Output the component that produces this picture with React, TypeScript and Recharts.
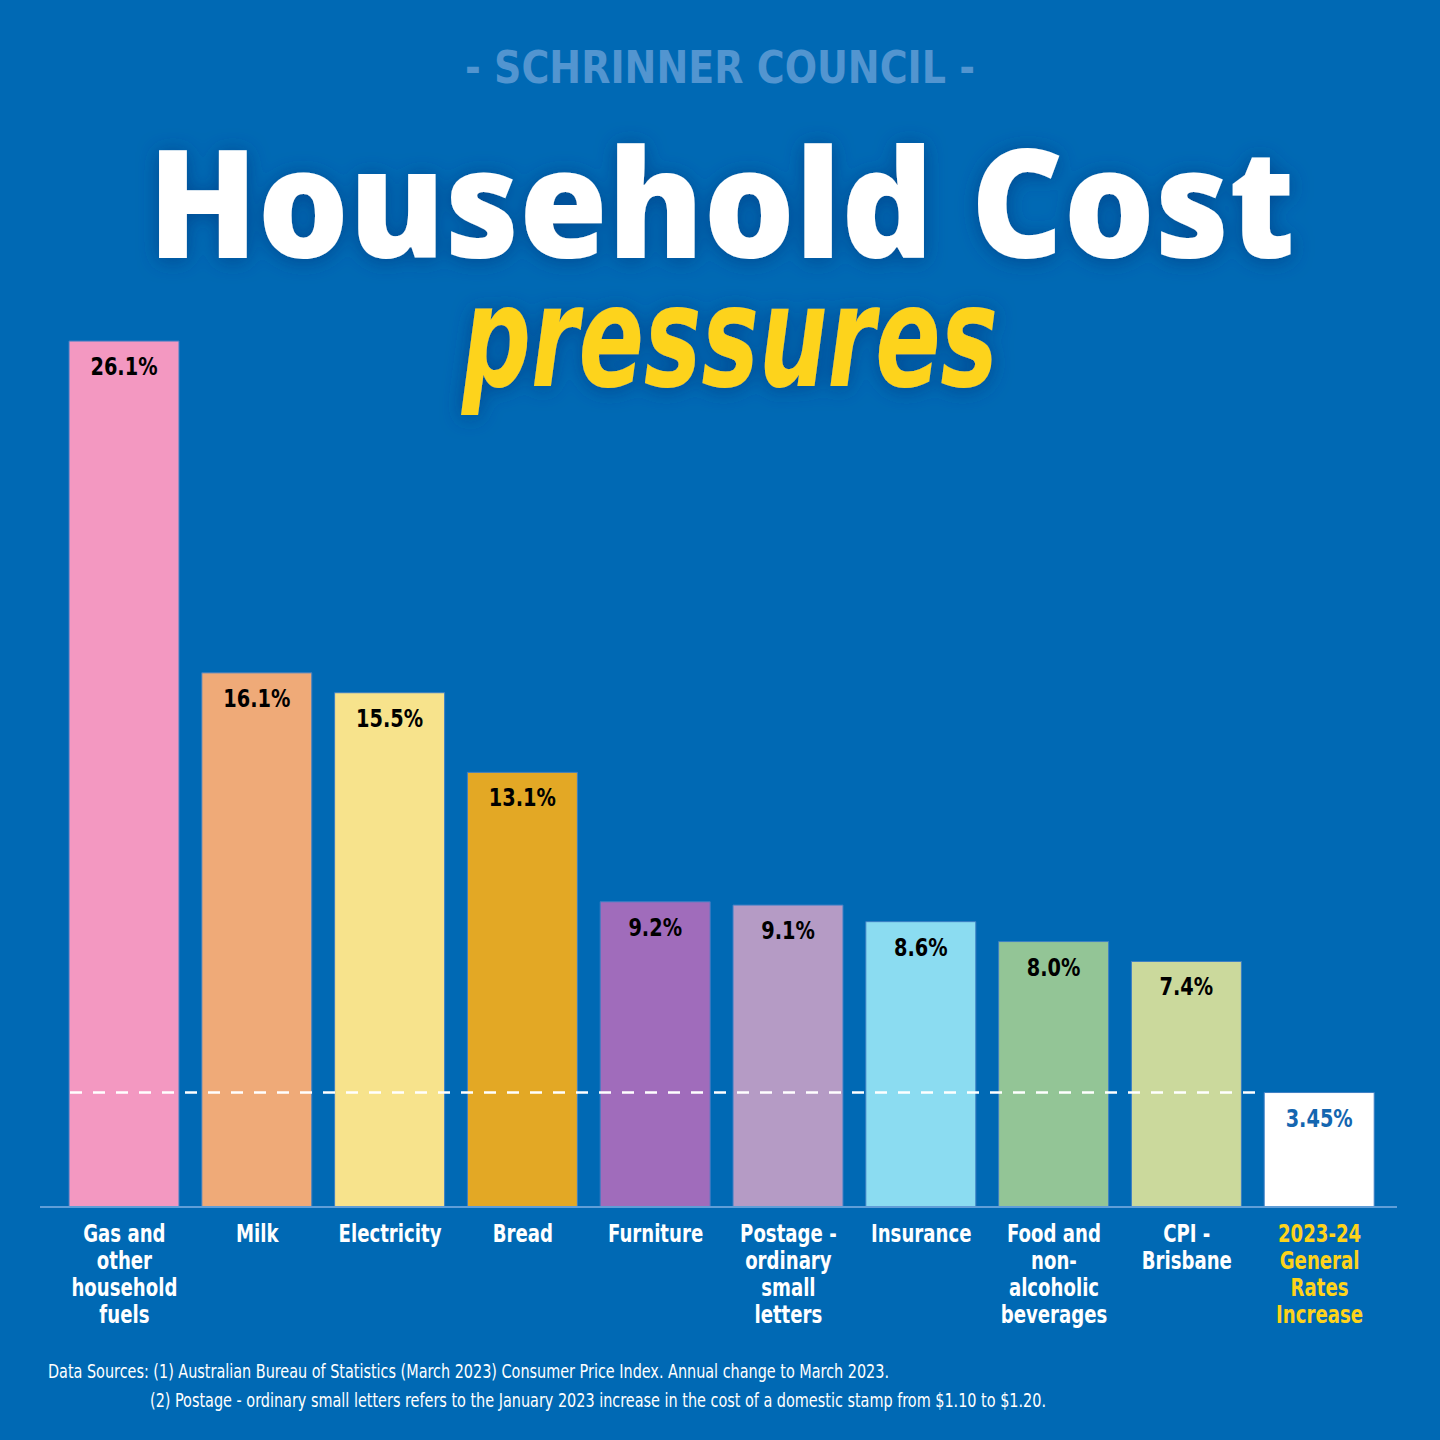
import React from 'react';
import { BarChart, Bar, XAxis, YAxis, Cell, LabelList, ReferenceLine } from 'recharts';

const categories = [
  'Gas and\nother\nhousehold\nfuels',
  'Milk',
  'Electricity',
  'Bread',
  'Furniture',
  'Postage -\nordinary\nsmall\nletters',
  'Insurance',
  'Food and\nnon-\nalcoholic\nbeverages',
  'CPI -\nBrisbane',
  '2023-24\nGeneral\nRates\nIncrease',
];
const values = [26.1, 16.1, 15.5, 13.1, 9.2, 9.1, 8.6, 8.0, 7.4, 3.45];
const valueLabels = ['26.1%', '16.1%', '15.5%', '13.1%', '9.2%', '9.1%', '8.6%', '8.0%', '7.4%', '3.45%'];
const colors = ['#f398c1', '#efaa78', '#f7e38c', '#e3a825', '#a06cbb', '#b59bc5', '#8bdcf1', '#93c596', '#cbd99c', '#ffffff'];
const ratesIncrease = 3.45;

const BG = '#0069b4';
const FONT = '"DejaVu Sans Condensed", "DejaVu Sans", sans-serif';

const data = categories.map((name, i) => ({ name, value: values[i], label: valueLabels[i] }));

function Tick(props: any) {
  const { x, y, payload, index } = props;
  const lines = String(payload.value).split('\n');
  const last = index === categories.length - 1;
  return (
    <text
      x={x}
      y={y + 27}
      textAnchor="middle"
      fill={last ? '#fdd31b' : '#ffffff'}
      fontFamily={FONT}
      fontWeight="bold"
      fontSize={24}
      style={{ fontStretch: 'condensed' }}
      transform={`translate(${x} 0) scale(0.84 1) translate(${-x} 0)`}
    >
      {lines.map((l, i) => (
        <tspan key={i} x={x} dy={i === 0 ? 0 : 27}>{l}</tspan>
      ))}
    </text>
  );
}

function ValueLabel(props: any) {
  const { x, y, width, value, index } = props;
  const last = index === values.length - 1;
  const cx = x + width / 2;
  return (
    <text
      x={cx}
      y={y + 34}
      textAnchor="middle"
      fill={last ? '#1466b0' : '#000000'}
      fontFamily={FONT}
      fontWeight="bold"
      fontSize={25}
      style={{ fontStretch: 'condensed' }}
      transform={`translate(${cx} 0) scale(0.86 1) translate(${-cx} 0)`}
    >
      {valueLabels[index] ?? value}
    </text>
  );
}

function DashLine(props: any) {
  const { x1, x2, y1 } = props;
  return <line x1={x1 + 30} x2={x2 - 140} y1={y1} y2={y1} stroke="#ffffff" strokeWidth={2.5} strokeDasharray="12 11" />;
}

export default function App() {
  return (
    <div style={{ position: 'absolute', left: 0, top: 0, width: 1440, height: 1440, background: BG, overflow: 'hidden' }}>
      <BarChart width={1440} height={1440} data={data} margin={{ top: 278, right: 43, bottom: 0, left: 40 }} barSize={110}>
        <YAxis hide domain={[0, 28]} />
        <XAxis
          dataKey="name"
          interval={0}
          tickLine={false}
          axisLine={{ stroke: '#5f9ed8', strokeWidth: 2 }}
          tick={<Tick />}
          height={233}
          padding={{ left: 18, right: 11 }}
        />
        <ReferenceLine y={ratesIncrease} shape={<DashLine />} />
        <Bar dataKey="value" isAnimationActive={false} stroke="#3d7fc4" strokeWidth={1}>
          {data.map((d, i) => (
            <Cell key={d.name} fill={colors[i]} />
          ))}
          <LabelList dataKey="value" content={<ValueLabel />} />
        </Bar>
      </BarChart>
      <svg width={1440} height={1440} style={{ position: 'absolute', left: 0, top: 0, pointerEvents: 'none' }}>
        <defs>
          <filter id="glow" x="-10%" y="-30%" width="120%" height="160%">
            <feGaussianBlur in="SourceAlpha" stdDeviation="10" />
            <feOffset dx="0" dy="2" result="b" />
            <feFlood floodColor="#003a80" floodOpacity="0.7" />
            <feComposite in2="b" operator="in" />
            <feMerge>
              <feMergeNode />
              <feMergeNode in="SourceGraphic" />
            </feMerge>
          </filter>
        </defs>
        <text x={465} y={83} fill="#5295d0" fontFamily={FONT} fontWeight="bold" fontSize={44} textLength={510} lengthAdjust="spacingAndGlyphs">
          - SCHRINNER COUNCIL -
        </text>
        <text x={148} y={258} fill="#ffffff" fontFamily='"Open Sans", sans-serif' fontWeight={800} fontSize={150} textLength={1147} lengthAdjust="spacingAndGlyphs" filter="url(#glow)">
          Household Cost
        </text>
        <text x={462} y={386} fill="#fdd31b" fontFamily={FONT} fontStyle="italic" fontWeight="bold" fontSize={140} textLength={536} lengthAdjust="spacingAndGlyphs" filter="url(#glow)">
          pressures
        </text>
        <text x={48} y={1378} fill="#ffffff" fontFamily={FONT} fontSize={20} textLength={841} lengthAdjust="spacingAndGlyphs">
          Data Sources: (1) Australian Bureau of Statistics (March 2023) Consumer Price Index. Annual change to March 2023.
        </text>
        <text x={150} y={1407} fill="#ffffff" fontFamily={FONT} fontSize={20} textLength={896} lengthAdjust="spacingAndGlyphs">
          (2) Postage - ordinary small letters refers to the January 2023 increase in the cost of a domestic stamp from $1.10 to $1.20.
        </text>
      </svg>
    </div>
  );
}
